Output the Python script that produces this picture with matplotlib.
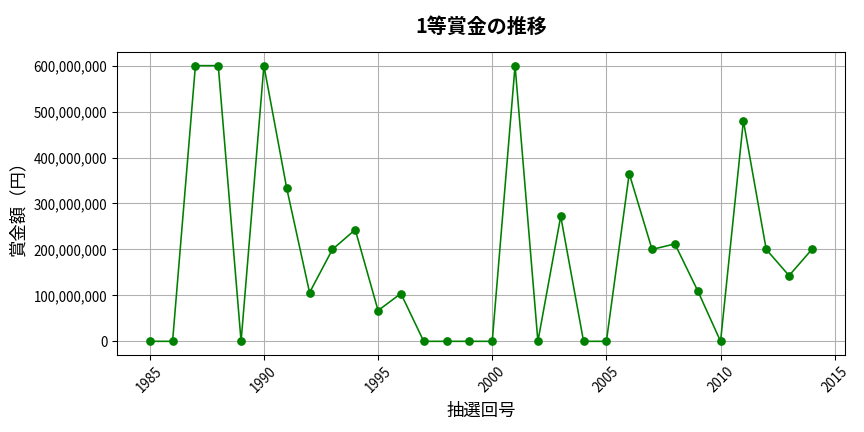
import matplotlib.pyplot as plt
from matplotlib.ticker import FuncFormatter

plt.rcParams['font.family'] = ['Noto Sans CJK JP', 'DejaVu Sans']

years = list(range(1985, 2015))
prizes = [0, 0, 600000000, 600000000, 0, 600000000, 333000000, 106000000,
          200000000, 243000000, 67000000, 104000000, 0, 0, 0, 0,
          600000000, 0, 272000000, 0, 0, 365000000, 200000000, 212000000,
          110000000, 0, 480000000, 200000000, 143000000, 200000000]

fig, ax = plt.subplots(figsize=(9, 4.5), dpi=96)
ax.plot(years, prizes, marker='o', color='green', markersize=5.5, linewidth=1.2)
ax.set_title("1等賞金の推移", fontsize=15, fontweight='bold', pad=14)
ax.set_xlabel("抽選回号", fontsize=13, labelpad=5)
ax.set_ylabel("賞金額（円）", fontsize=13, labelpad=5)
ax.yaxis.set_major_formatter(FuncFormatter(lambda v, p: f"{int(v):,}"))
ax.tick_params(axis='x', rotation=45)
ax.grid(True)
fig.subplots_adjust(left=0.135, right=0.978, top=0.88, bottom=0.178)
plt.savefig("out.png")
